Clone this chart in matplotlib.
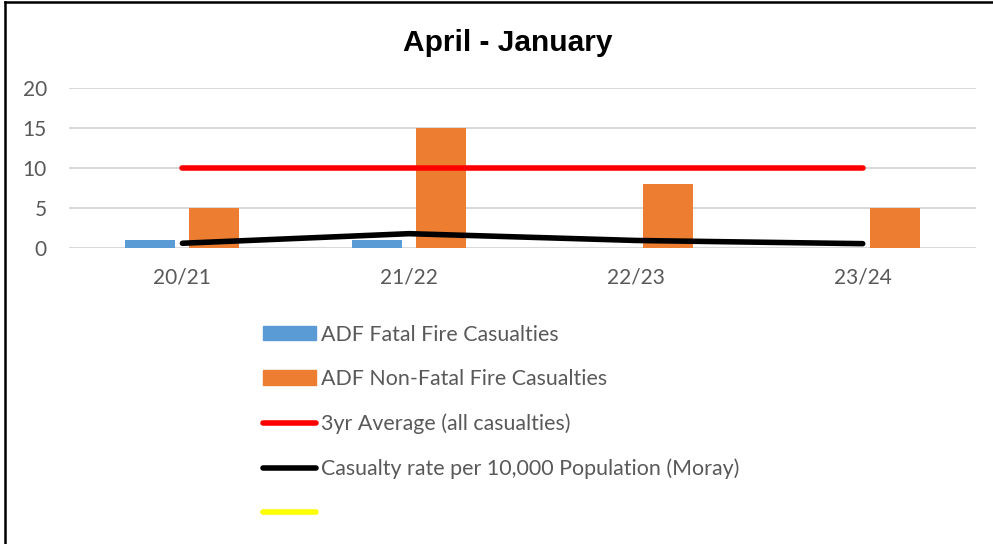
import matplotlib
matplotlib.use('Agg')
import matplotlib.pyplot as plt
from matplotlib.lines import Line2D
from matplotlib.patches import Patch
import numpy as np

# data
years = ['20/21', '21/22', '22/23', '23/24']
fatal = [1, 1, 0, 0]
non_fatal = [5, 15, 8, 5]
avg_3yr = [10, 10, 10, 10]
rate_moray = [0.6, 1.8, 0.95, 0.55]

labels = ['ADF Fatal Fire Casualties',
          'ADF Non-Fatal Fire Casualties',
          '3yr Average (all casualties)',
          'Casualty rate per 10,000 Population (Moray)',
          '']

c_blue = '#5B9BD5'
c_orange = '#ED7D31'
c_text = '#595959'

fig = plt.figure(figsize=(9.93, 5.44), dpi=100)
ax = fig.add_axes([0.0695, 0.544, 0.9135, 0.294])

x = np.arange(len(years))
w = 0.22
off = 0.141
ax.bar(x - off, fatal, w, color=c_blue, zorder=3)
ax.bar(x + off, non_fatal, w, color=c_orange, zorder=3)
ax.plot(x, avg_3yr, color='#FF0000', lw=4, solid_capstyle='round', zorder=4)
ax.plot(x, rate_moray, color='black', lw=4, solid_capstyle='round', zorder=4)

ax.set_xlim(-0.5, 3.5)
ax.set_ylim(0, 20)
ax.set_yticks([0, 5, 10, 15, 20])
ax.set_xticks(x)
ax.set_xticklabels(years)
ax.grid(axis='y', color='#d9d9d9', lw=1.5, zorder=0)
ax.set_axisbelow(True)
for s in ax.spines.values():
    s.set_visible(False)
ax.tick_params(axis='both', length=0, labelsize=15, labelcolor=c_text)
ax.tick_params(axis='y', pad=16)
ax.tick_params(axis='x', pad=14)
for t in ax.get_xticklabels() + ax.get_yticklabels():
    t.set_fontfamily('Lato')

fig.text(0.5116, 0.921, 'April - January', ha='center', va='center',
         fontsize=21.5, fontweight='bold', family='Liberation Sans', color='black')

handles = [Patch(color=c_blue), Patch(color=c_orange),
           Line2D([], [], color='#FF0000', lw=4, solid_capstyle='round'),
           Line2D([], [], color='black', lw=4, solid_capstyle='round'),
           Line2D([], [], color='#FFFF00', lw=4, solid_capstyle='round')]
fig.legend(handles, labels, loc='upper left', bbox_to_anchor=(0.265, 0.403),
           frameon=False, prop={'family': 'Lato', 'size': 15.4},
           labelcolor=c_text, handlelength=2.48, handleheight=0.65,
           handletextpad=0.22, labelspacing=1.14, borderaxespad=0, borderpad=0)

# frame on left and top edges
fig.add_artist(Line2D([0.005, 0.005], [0, 0.997], color='black', lw=1.8))
fig.add_artist(Line2D([0.005, 1.0], [0.997, 0.997], color='black', lw=1.8))

fig.savefig('out.png', dpi=100)
